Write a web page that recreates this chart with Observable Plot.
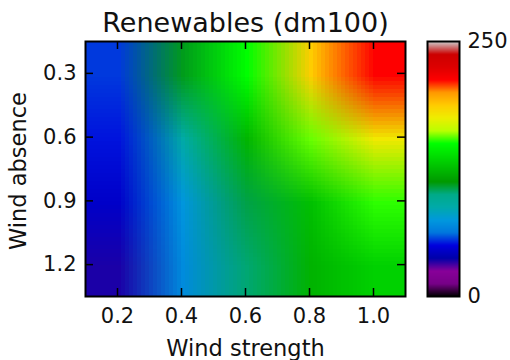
<!DOCTYPE html>
<html><head><meta charset="utf-8">
<script src="https://cdn.jsdelivr.net/npm/d3@7"></script>
<script src="https://cdn.jsdelivr.net/npm/@observablehq/plot@0.6"></script>
<style>
body{margin:0;background:#fff;}
#chart{position:relative;width:510px;height:360px;}
#chart svg{position:absolute;left:0;top:0;}
</style></head><body><div id="chart"></div>
<script>
const title = "Renewables (dm100)";
const xLabel = "Wind strength";
const yLabel = "Wind absence";

// grid nodes
const windStrength = [0.2, 0.4, 0.6, 0.8, 1.0];
const windAbsence = [0.3, 0.6, 0.9, 1.2];
// renewables values, one row per wind-absence level
const renew_03 = [56, 110, 150, 187, 213];
const renew_06 = [52, 89, 123, 157, 177];
const renew_09 = [45, 74, 106, 127, 153];
const renew_12 = [35, 70, 102, 122, 133];

const xTicks = [0.2, 0.4, 0.6, 0.8, 1.0];
const yTicks = [0.3, 0.6, 0.9, 1.2];
const cbTicks = [0, 250];
const cbMin = 0, cbMax = 250;

// nipy_spectral colormap stops
const nipyStops = [
  "rgb(0,0,0)", "rgb(119,0,136)", "rgb(136,0,153)", "rgb(0,0,170)", "rgb(0,0,221)",
  "rgb(0,119,221)", "rgb(0,153,221)", "rgb(0,170,170)", "rgb(0,170,136)", "rgb(0,153,0)",
  "rgb(0,187,0)", "rgb(0,221,0)", "rgb(0,255,0)", "rgb(187,255,0)", "rgb(238,238,0)",
  "rgb(255,204,0)", "rgb(255,153,0)", "rgb(255,0,0)", "rgb(221,0,0)", "rgb(204,0,0)",
  "rgb(204,204,204)"
];

const grid = [renew_03, renew_06, renew_09, renew_12].flat();
const stepX = windStrength[1] - windStrength[0];
const stepY = windAbsence[1] - windAbsence[0];
const ext = {
  x1: windStrength[0] - stepX / 2, x2: windStrength[windStrength.length - 1] + stepX / 2,
  y1: windAbsence[0] - stepY / 2, y2: windAbsence[windAbsence.length - 1] + stepY / 2
};

const color = {
  type: "linear",
  domain: nipyStops.map((_, i) => cbMin + (cbMax - cbMin) * i / (nipyStops.length - 1)),
  range: nipyStops,
  interpolate: "rgb"
};

const W = 510, H = 360, mt = 41, mr = 105, mb = 64, ml = 85;
const innerW = W - ml - mr, innerH = H - mt - mb;
const font = "DejaVu Sans";
const tickLen = 8;
const fmt = d3.format(".1f");

const main = Plot.plot({
  width: W, height: H, marginTop: mt, marginRight: mr, marginBottom: mb, marginLeft: ml,
  style: {fontFamily: font, fontSize: "21px", color: "black", background: "transparent"},
  x: {domain: [ext.x1, ext.x2]},
  y: {domain: [ext.y1, ext.y2], reverse: true},
  color,
  marks: [
    Plot.raster(grid, {width: windStrength.length, height: windAbsence.length,
      x1: ext.x1, x2: ext.x2, y1: ext.y1, y2: ext.y2, fill: d => d, imageRendering: "auto"}),
    Plot.ruleX(xTicks, {x: d => d, insetTop: innerH - tickLen, stroke: "black", strokeWidth: 1.5}),
    Plot.ruleX(xTicks, {x: d => d, insetBottom: innerH - tickLen, stroke: "black", strokeWidth: 1.5}),
    Plot.ruleY(yTicks, {y: d => d, insetRight: innerW - tickLen, stroke: "black", strokeWidth: 1.5}),
    Plot.ruleY(yTicks, {y: d => d, insetLeft: innerW - tickLen, stroke: "black", strokeWidth: 1.5}),
    Plot.frame({stroke: "black", strokeWidth: 2}),
    Plot.axisX(xTicks, {anchor: "bottom", tickSize: 0, tickPadding: 12, fontSize: 21, tickFormat: fmt, label: null, fill: "#111"}),
    Plot.axisY(yTicks, {anchor: "left", tickSize: 0, tickPadding: 9, fontSize: 21, tickFormat: fmt, label: null, fill: "#111"}),
    Plot.text([xLabel], {text: d => d, frameAnchor: "bottom", dy: 52.5, fontSize: 22.5, lineAnchor: "middle", fill: "#111"}),
    Plot.text([yLabel], {text: d => d, frameAnchor: "left", textAnchor: "middle", dx: -67, dy: 2, rotate: -90, fontSize: 22.5, lineAnchor: "middle", fill: "#111"}),
    Plot.text([title], {text: d => d, frameAnchor: "top", dy: -18, fontSize: 27, lineAnchor: "middle", fill: "#111"})
  ]
});

const cbN = 256;
const cbValues = d3.range(cbN).map(j => cbMax - (j + 0.5) * (cbMax - cbMin) / cbN);
const cb = Plot.plot({
  width: W, height: H, marginTop: mt, marginBottom: mb, marginLeft: 427, marginRight: 51,
  style: {fontFamily: font, fontSize: "21px", color: "black", background: "transparent"},
  x: {domain: [0, 1], axis: null},
  y: {domain: [cbMin, cbMax], axis: null},
  color,
  marks: [
    Plot.raster(cbValues, {width: 1, height: cbN, x1: 0, x2: 1, y1: cbMax, y2: cbMin, fill: d => d, imageRendering: "auto"}),
    Plot.frame({stroke: "black", strokeWidth: 2}),
    Plot.axisY(cbTicks, {anchor: "right", tickSize: 0, tickPadding: 8, fontSize: 21, label: null, fill: "#111"})
  ]
});

const el = document.getElementById("chart");
el.append(main);
el.append(cb);
</script></body></html>
